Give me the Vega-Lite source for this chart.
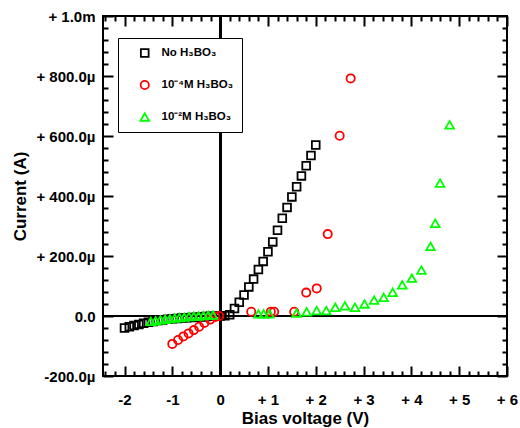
{
  "$schema": "https://vega.github.io/schema/vega-lite/v6.json",
  "width": 404,
  "height": 360,
  "autosize": {"type": "none"},
  "padding": {"left": 103, "top": 16, "right": 13, "bottom": 52},
  "background": "white",
  "config": {
    "view": {"stroke": null},
    "axis": {
      "grid": false,
      "labelFont": "Liberation Sans",
      "labelFontWeight": "bold",
      "labelFontSize": 15,
      "labelColor": "black",
      "titleFont": "Liberation Sans",
      "titleFontWeight": "bold",
      "titleFontSize": 17,
      "titleColor": "black",
      "domain": false,
      "tickColor": "black",
      "tickWidth": 2
    }
  },
  "data": {
    "values": [
      {"series": "No H₃BO₃", "V": -2.0, "I": -40},
      {"series": "No H₃BO₃", "V": -1.9, "I": -36},
      {"series": "No H₃BO₃", "V": -1.8, "I": -32},
      {"series": "No H₃BO₃", "V": -1.7, "I": -28},
      {"series": "No H₃BO₃", "V": -1.6, "I": -24},
      {"series": "No H₃BO₃", "V": -1.5, "I": -21},
      {"series": "No H₃BO₃", "V": -1.4, "I": -18},
      {"series": "No H₃BO₃", "V": -1.3, "I": -15},
      {"series": "No H₃BO₃", "V": -1.2, "I": -13},
      {"series": "No H₃BO₃", "V": -1.1, "I": -11},
      {"series": "No H₃BO₃", "V": -1.0, "I": -9},
      {"series": "No H₃BO₃", "V": -0.9, "I": -8},
      {"series": "No H₃BO₃", "V": -0.8, "I": -7},
      {"series": "No H₃BO₃", "V": -0.7, "I": -6},
      {"series": "No H₃BO₃", "V": -0.6, "I": -5},
      {"series": "No H₃BO₃", "V": -0.5, "I": -4},
      {"series": "No H₃BO₃", "V": -0.4, "I": -3},
      {"series": "No H₃BO₃", "V": -0.3, "I": -2},
      {"series": "No H₃BO₃", "V": -0.2, "I": -1},
      {"series": "No H₃BO₃", "V": -0.1, "I": -1},
      {"series": "No H₃BO₃", "V": 0.0, "I": 0},
      {"series": "No H₃BO₃", "V": 0.1, "I": 1},
      {"series": "No H₃BO₃", "V": 0.2, "I": 4},
      {"series": "No H₃BO₃", "V": 0.3, "I": 25},
      {"series": "No H₃BO₃", "V": 0.4, "I": 46},
      {"series": "No H₃BO₃", "V": 0.5, "I": 70},
      {"series": "No H₃BO₃", "V": 0.6, "I": 97},
      {"series": "No H₃BO₃", "V": 0.7, "I": 123},
      {"series": "No H₃BO₃", "V": 0.8, "I": 155},
      {"series": "No H₃BO₃", "V": 0.9, "I": 182},
      {"series": "No H₃BO₃", "V": 1.0, "I": 214},
      {"series": "No H₃BO₃", "V": 1.1, "I": 247},
      {"series": "No H₃BO₃", "V": 1.2, "I": 286},
      {"series": "No H₃BO₃", "V": 1.3, "I": 326},
      {"series": "No H₃BO₃", "V": 1.4, "I": 362},
      {"series": "No H₃BO₃", "V": 1.5, "I": 397},
      {"series": "No H₃BO₃", "V": 1.6, "I": 431},
      {"series": "No H₃BO₃", "V": 1.7, "I": 467},
      {"series": "No H₃BO₃", "V": 1.8, "I": 501},
      {"series": "No H₃BO₃", "V": 1.9, "I": 535},
      {"series": "No H₃BO₃", "V": 2.0, "I": 570},
      {"series": "10⁻⁴M H₃BO₃", "V": -1.0, "I": -93},
      {"series": "10⁻⁴M H₃BO₃", "V": -0.88, "I": -80},
      {"series": "10⁻⁴M H₃BO₃", "V": -0.77, "I": -68},
      {"series": "10⁻⁴M H₃BO₃", "V": -0.66, "I": -58},
      {"series": "10⁻⁴M H₃BO₃", "V": -0.55, "I": -47},
      {"series": "10⁻⁴M H₃BO₃", "V": -0.44, "I": -36},
      {"series": "10⁻⁴M H₃BO₃", "V": -0.33, "I": -23},
      {"series": "10⁻⁴M H₃BO₃", "V": -0.21, "I": -12},
      {"series": "10⁻⁴M H₃BO₃", "V": -0.1, "I": -3},
      {"series": "10⁻⁴M H₃BO₃", "V": -0.02, "I": 0},
      {"series": "10⁻⁴M H₃BO₃", "V": 0.65, "I": 14},
      {"series": "10⁻⁴M H₃BO₃", "V": 1.06, "I": 14},
      {"series": "10⁻⁴M H₃BO₃", "V": 1.13, "I": 14},
      {"series": "10⁻⁴M H₃BO₃", "V": 1.55, "I": 14},
      {"series": "10⁻⁴M H₃BO₃", "V": 1.8, "I": 78},
      {"series": "10⁻⁴M H₃BO₃", "V": 2.02, "I": 92},
      {"series": "10⁻⁴M H₃BO₃", "V": 2.25, "I": 273},
      {"series": "10⁻⁴M H₃BO₃", "V": 2.5, "I": 601},
      {"series": "10⁻⁴M H₃BO₃", "V": 2.73, "I": 792},
      {"series": "10⁻²M H₃BO₃", "V": -1.45, "I": -18},
      {"series": "10⁻²M H₃BO₃", "V": -1.35, "I": -16},
      {"series": "10⁻²M H₃BO₃", "V": -1.25, "I": -13},
      {"series": "10⁻²M H₃BO₃", "V": -1.15, "I": -11},
      {"series": "10⁻²M H₃BO₃", "V": -1.05, "I": -9},
      {"series": "10⁻²M H₃BO₃", "V": -0.95, "I": -7},
      {"series": "10⁻²M H₃BO₃", "V": -0.85, "I": -5},
      {"series": "10⁻²M H₃BO₃", "V": -0.75, "I": -4},
      {"series": "10⁻²M H₃BO₃", "V": -0.65, "I": -2},
      {"series": "10⁻²M H₃BO₃", "V": -0.55, "I": -1},
      {"series": "10⁻²M H₃BO₃", "V": -0.45, "I": 0},
      {"series": "10⁻²M H₃BO₃", "V": -0.35, "I": 1},
      {"series": "10⁻²M H₃BO₃", "V": -0.25, "I": 2},
      {"series": "10⁻²M H₃BO₃", "V": -0.15, "I": 3},
      {"series": "10⁻²M H₃BO₃", "V": 0.8, "I": 7},
      {"series": "10⁻²M H₃BO₃", "V": 0.91, "I": 7},
      {"series": "10⁻²M H₃BO₃", "V": 1.03, "I": 7},
      {"series": "10⁻²M H₃BO₃", "V": 1.6, "I": 10},
      {"series": "10⁻²M H₃BO₃", "V": 1.81, "I": 14},
      {"series": "10⁻²M H₃BO₃", "V": 2.02, "I": 18},
      {"series": "10⁻²M H₃BO₃", "V": 2.22, "I": 18},
      {"series": "10⁻²M H₃BO₃", "V": 2.41, "I": 29},
      {"series": "10⁻²M H₃BO₃", "V": 2.61, "I": 34},
      {"series": "10⁻²M H₃BO₃", "V": 2.82, "I": 29},
      {"series": "10⁻²M H₃BO₃", "V": 3.02, "I": 40},
      {"series": "10⁻²M H₃BO₃", "V": 3.22, "I": 53},
      {"series": "10⁻²M H₃BO₃", "V": 3.42, "I": 62},
      {"series": "10⁻²M H₃BO₃", "V": 3.61, "I": 79},
      {"series": "10⁻²M H₃BO₃", "V": 3.81, "I": 104},
      {"series": "10⁻²M H₃BO₃", "V": 4.01, "I": 126},
      {"series": "10⁻²M H₃BO₃", "V": 4.21, "I": 153},
      {"series": "10⁻²M H₃BO₃", "V": 4.4, "I": 232},
      {"series": "10⁻²M H₃BO₃", "V": 4.5, "I": 309},
      {"series": "10⁻²M H₃BO₃", "V": 4.6, "I": 443},
      {"series": "10⁻²M H₃BO₃", "V": 4.8, "I": 637}
    ]
  },
  "resolve": {"axis": {"x": "independent", "y": "independent"}},
  "layer": [
    {
      "mark": {"type": "rule", "color": "black", "strokeWidth": 2},
      "encoding": {"x": {"datum": 0, "type": "quantitative", "scale": {"domain": [-2.45, 6], "nice": false, "zero": false}, "axis": null}}
    },
    {
      "mark": {"type": "rule", "color": "black", "strokeWidth": 2},
      "encoding": {"y": {"datum": 0, "type": "quantitative", "scale": {"domain": [-200, 1000], "nice": false, "zero": false}, "axis": null}}
    },
    {
      "mark": {"type": "point", "filled": false, "strokeWidth": 1.8, "opacity": 1},
      "encoding": {
        "x": {"field": "V", "type": "quantitative", "scale": {"domain": [-2.45, 6], "nice": false, "zero": false},
          "axis": {"orient": "bottom",
            "values": [-2.4, -2.2, -2, -1.8, -1.6, -1.4, -1.2, -1, -0.8, -0.6, -0.4, -0.2, 0, 0.2, 0.4, 0.6, 0.8, 1, 1.2, 1.4, 1.6, 1.8, 2, 2.2, 2.4, 2.6, 2.8, 3, 3.2, 3.4, 3.6, 3.8, 4, 4.2, 4.4, 4.6, 4.8, 5, 5.2, 5.4, 5.6, 5.8, 6],
            "tickSize": {"expr": "abs(datum.value - round(datum.value)) < 0.01 ? -10 : -5"},
            "labelPadding": 26, "labelFlush": false, "labelOverlap": false,
            "labelExpr": "abs(datum.value - round(datum.value)) < 0.01 ? (datum.value > 0 ? '+  ' + round(datum.value) : '' + round(datum.value)) : ''",
            "title": "Bias voltage (V)", "titlePadding": -2}},
        "y": {"field": "I", "type": "quantitative", "scale": {"domain": [-200, 1000], "nice": false, "zero": false},
          "axis": {"orient": "left",
            "values": [-200, -160, -120, -80, -40, 0, 40, 80, 120, 160, 200, 240, 280, 320, 360, 400, 440, 480, 520, 560, 600, 640, 680, 720, 760, 800, 840, 880, 920, 960, 1000],
            "tickSize": {"expr": "datum.value % 200 == 0 ? -10 : -5"},
            "labelPadding": 18, "labelFlush": false, "labelOverlap": false,
            "labelExpr": "datum.value % 200 != 0 ? '' : datum.value == 1000 ? '+   1.0m' : datum.value == 0 ? '0.0' : datum.value < 0 ? '-' + format(abs(datum.value), '.1f') + 'µ' : '+ ' + format(datum.value, '.1f') + 'µ'",
            "title": "Current (A)", "titlePadding": 6}},
        "color": {"field": "series", "type": "nominal",
          "scale": {"domain": ["No H₃BO₃", "10⁻⁴M H₃BO₃", "10⁻²M H₃BO₃"], "range": ["#000000", "#ff0000", "#00ff00"]},
          "legend": {"orient": "none", "legendX": 15, "legendY": 22, "title": null, "fillColor": "white", "strokeColor": "black", "padding": 9,
            "rowPadding": 20, "clipHeight": 12, "symbolSize": 80, "symbolStrokeWidth": 1.8, "symbolOffset": 12, "labelOffset": 11,
            "labelFont": "Liberation Sans", "labelFontWeight": "bold", "labelFontSize": 11.5, "labelColor": "black"}},
        "shape": {"field": "series", "type": "nominal",
          "scale": {"domain": ["No H₃BO₃", "10⁻⁴M H₃BO₃", "10⁻²M H₃BO₃"], "range": ["square", "circle", "triangle-up"]}},
        "size": {"field": "series", "type": "nominal",
          "scale": {"domain": ["No H₃BO₃", "10⁻⁴M H₃BO₃", "10⁻²M H₃BO₃"], "range": [60, 75, 100]}, "legend": null}
      }
    },
    {
      "mark": {"type": "point", "opacity": 0},
      "encoding": {
        "x": {"field": "V", "type": "quantitative", "scale": {"domain": [-2.45, 6], "nice": false, "zero": false},
          "axis": {"orient": "top",
            "values": [-2.4, -2.2, -2, -1.8, -1.6, -1.4, -1.2, -1, -0.8, -0.6, -0.4, -0.2, 0, 0.2, 0.4, 0.6, 0.8, 1, 1.2, 1.4, 1.6, 1.8, 2, 2.2, 2.4, 2.6, 2.8, 3, 3.2, 3.4, 3.6, 3.8, 4, 4.2, 4.4, 4.6, 4.8, 5, 5.2, 5.4, 5.6, 5.8, 6],
            "tickSize": {"expr": "abs(datum.value - round(datum.value)) < 0.01 ? -10 : -5"},
            "labels": false, "title": null}},
        "y": {"field": "I", "type": "quantitative", "scale": {"domain": [-200, 1000], "nice": false, "zero": false},
          "axis": {"orient": "right",
            "values": [-200, -160, -120, -80, -40, 0, 40, 80, 120, 160, 200, 240, 280, 320, 360, 400, 440, 480, 520, 560, 600, 640, 680, 720, 760, 800, 840, 880, 920, 960, 1000],
            "tickSize": {"expr": "datum.value % 200 == 0 ? -10 : -5"},
            "labels": false, "title": null}}
      }
    },
    {
      "mark": {"type": "rect", "fillOpacity": 0, "stroke": "black", "strokeWidth": 2},
      "encoding": {
        "x": {"datum": -2.45, "type": "quantitative", "scale": {"domain": [-2.45, 6], "nice": false, "zero": false}, "axis": null},
        "x2": {"datum": 6},
        "y": {"datum": -200, "type": "quantitative", "scale": {"domain": [-200, 1000], "nice": false, "zero": false}, "axis": null},
        "y2": {"datum": 1000}
      }
    }
  ]
}
